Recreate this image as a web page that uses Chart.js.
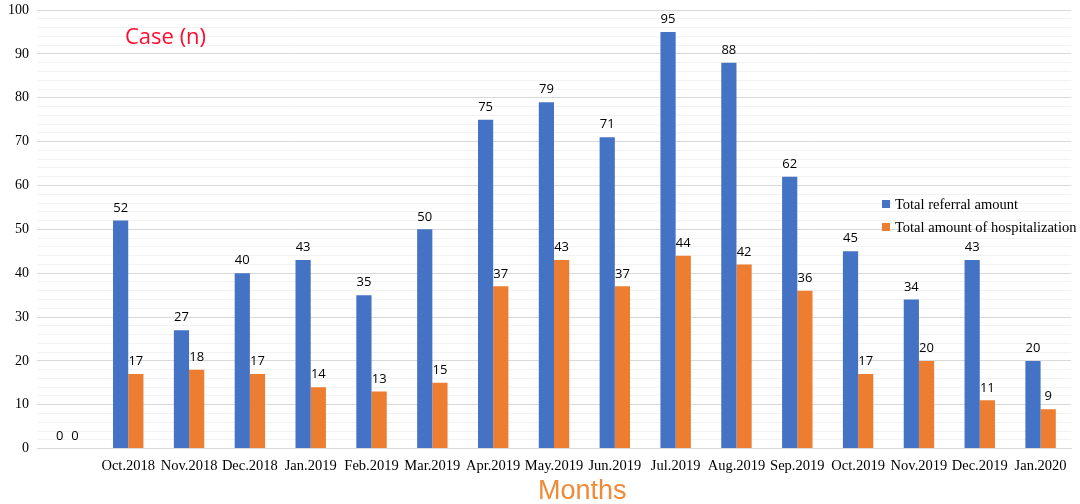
<!DOCTYPE html>
<html>
<head>
<meta charset="utf-8">
<script src="https://cdn.jsdelivr.net/npm/chart.js@4.4.1/dist/chart.umd.min.js"></script>
<style>
  html, body { margin: 0; padding: 0; background: #fff; }
  #wrap { position: relative; width: 1080px; height: 504px; overflow: hidden; }
  #caseTitle { position: absolute; left: 125px; top: 20px; font: 22px "Open Sans", sans-serif; color: #ff0d2e; white-space: nowrap; }
  #monthsTitle { position: absolute; left: 538px; top: 475px; font: 27px "Liberation Sans", Arial, sans-serif; color: #f08a37; white-space: nowrap; }
  #legend { position: absolute; left: 882px; top: 195px; font: 14.5px "Liberation Serif", serif; color: #000; }
  #legend div { height: 23px; line-height: 18px; white-space: nowrap; }
  #legend span { display: inline-block; width: 8px; height: 8px; margin-right: 5px; vertical-align: 1px; }
</style>
</head>
<body>
<div id="wrap">
  <canvas id="chart" width="1080" height="504"></canvas>
  <div id="caseTitle">Case (n)</div>
  <div id="monthsTitle">Months</div>
  <div id="legend"></div>
</div>
<script>
// data
const months = ['', 'Oct.2018', 'Nov.2018', 'Dec.2018', 'Jan.2019', 'Feb.2019', 'Mar.2019', 'Apr.2019',
    'May.2019', 'Jun.2019', 'Jul.2019', 'Aug.2019', 'Sep.2019', 'Oct.2019', 'Nov.2019', 'Dec.2019', 'Jan.2020'];
const referralTotal = [0, 52, 27, 40, 43, 35, 50, 75, 79, 71, 95, 88, 62, 45, 34, 43, 20];
const hospitalTotal = [0, 17, 18, 17, 14, 13, 15, 37, 43, 37, 44, 42, 36, 17, 20, 11, 9];
const seriesNames = ['Total referral amount', 'Total amount of hospitalization'];
const seriesColors = ['#4472c4', '#ed7d31'];

// legend (html)
const legendBox = document.getElementById('legend');
seriesNames.forEach((name, i) => {
    const row = document.createElement('div');
    row.innerHTML = '<span style="background:' + seriesColors[i] + '"></span>' + name;
    legendBox.appendChild(row);
});

// value labels on top of the bars
const valueLabels = {
    id: 'valueLabels',
    afterDatasetsDraw(chart) {
        const ctx = chart.ctx;
        ctx.save();
        ctx.font = '13px "Open Sans", sans-serif';
        ctx.fillStyle = '#000';
        ctx.textAlign = 'center';
        ctx.textBaseline = 'bottom';
        chart.data.datasets.forEach((ds, di) => {
            chart.getDatasetMeta(di).data.forEach((bar, i) => {
                ctx.fillText(ds.data[i], bar.x, bar.y - 6);
            });
        });
        ctx.restore();
    }
};

new Chart(document.getElementById('chart'), {
    type: 'bar',
    data: {
        labels: months,
        datasets: [{
            label: seriesNames[0],
            data: referralTotal,
            backgroundColor: seriesColors[0],
            categoryPercentage: 0.5,
            barPercentage: 1.0
        }, {
            label: seriesNames[1],
            data: hospitalTotal,
            backgroundColor: seriesColors[1],
            categoryPercentage: 0.5,
            barPercentage: 1.0
        }]
    },
    options: {
        responsive: false,
        animation: false,
        layout: { padding: { top: 10, right: 9, bottom: 20, left: 0 } },
        plugins: {
            legend: { display: false },
            tooltip: { enabled: false }
        },
        scales: {
            x: {
                grid: { display: false, drawTicks: false },
                border: { display: true, color: '#d9d9d9', width: 1 },
                ticks: {
                    color: '#000',
                    font: { family: '"Liberation Serif", serif', size: 14.5 },
                    padding: 9,
                    maxRotation: 0,
                    autoSkip: false
                }
            },
            y: {
                min: 0,
                max: 100,
                border: { display: false },
                grid: {
                    drawTicks: false,
                    color: c => (c.tick.value % 10 === 0 ? '#d9d9d9' : '#f2f2f2')
                },
                ticks: {
                    stepSize: 2,
                    autoSkip: false,
                    padding: 8,
                    color: '#000',
                    font: { family: '"Liberation Serif", serif', size: 14, lineHeight: 0.3 },
                    callback: v => (v % 10 === 0 ? v : '')
                }
            }
        }
    },
    plugins: [valueLabels]
});
</script>
</body>
</html>
